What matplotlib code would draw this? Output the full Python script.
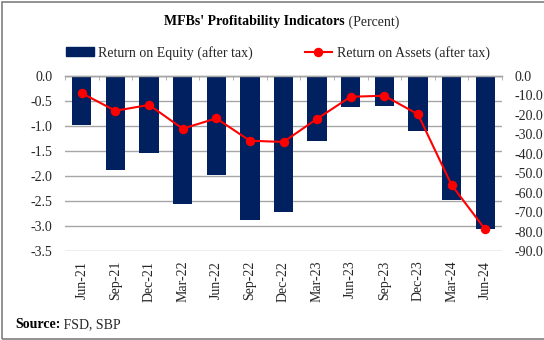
import matplotlib
matplotlib.use("Agg")
import matplotlib.pyplot as plt
from matplotlib.lines import Line2D
from matplotlib.patches import Patch, Rectangle

plt.rcParams['font.family'] = ['Liberation Serif', 'DejaVu Serif']
plt.rcParams['font.size'] = 10

quarters = ['Jun-21', 'Sep-21', 'Dec-21', 'Mar-22', 'Jun-22', 'Sep-22', 'Dec-22',
            'Mar-23', 'Jun-23', 'Sep-23', 'Dec-23', 'Mar-24', 'Jun-24']
# bars, left scale
roe = [-0.98, -1.88, -1.55, -2.57, -1.99, -2.88, -2.73,
       -1.30, -0.63, -0.60, -1.11, -2.48, -3.07]
# line, right scale
roa = [-9.0, -18.0, -15.0, -27.2, -21.9, -33.4, -34.0,
       -22.1, -10.8, -10.3, -19.8, -56.1, -78.9]

left_ticks = [0.0, -0.5, -1.0, -1.5, -2.0, -2.5, -3.0, -3.5]
right_ticks = [0, -10, -20, -30, -40, -50, -60, -70, -80, -90]

navy = '#002060'
red = '#FF0000'
grid_grey = '#A6A6A6'
text_col = '#262626'

fig = plt.figure(figsize=(5.44, 3.40), dpi=100)
ax = fig.add_axes([65 / 544, 89 / 340, 437 / 544, 175.3 / 340])
ax2 = ax.twinx()

x = list(range(len(quarters)))
ax.bar(x, roe, width=0.575, color=navy, zorder=3)
ax2.plot(x, roa, color=red, lw=1.5, marker='o', ms=5.8, zorder=4)

ax.set_xlim(-0.5, len(quarters) - 0.5)
ax.set_ylim(-3.5, 0)
ax2.set_ylim(-90, 0)
ax.set_yticks(left_ticks)
ax.set_yticklabels([f'{v:.1f}' for v in left_ticks])
ax2.set_yticks(right_ticks)
ax2.set_yticklabels([f'{v:.1f}' for v in right_ticks])

ax.grid(axis='y', color=grid_grey, lw=1.0, zorder=0)
ax.set_axisbelow(True)

for a in (ax, ax2):
    for side in ('left', 'right', 'bottom'):
        a.spines[side].set_visible(False)
    a.spines['top'].set_color(grid_grey)
    a.spines['top'].set_linewidth(1.0)

ax.set_xticks(x)
ax.set_xticklabels(quarters, rotation=90, color=text_col)
ax.tick_params(axis='x', which='major', length=0, pad=7)
ax.set_xticks([i - 0.5 for i in range(len(quarters) + 1)], minor=True)
ax.tick_params(axis='x', which='minor', top=True, bottom=False, direction='in',
               length=3, color=grid_grey)
ax.tick_params(axis='y', length=0, pad=9, labelcolor=text_col)
ax2.tick_params(axis='y', length=0, pad=9, labelcolor=text_col)

# title: bold part followed by a regular "(Percent)"
fig.canvas.draw()
renderer = fig.canvas.get_renderer()
t1 = fig.text(0, 1 - 22 / 340, "MFBs' Profitability Indicators", fontweight='bold',
              va='center', ha='left', color='black')
t2 = fig.text(0, 1 - 22 / 340, ' (Percent)', va='center', ha='left', color=text_col)
w1 = t1.get_window_extent(renderer).width
w2 = t2.get_window_extent(renderer).width
start = 281.5 - (w1 + w2) / 2
t1.set_x(start / 544)
t2.set_x((start + w1) / 544)

handles = [Patch(color=navy),
           Line2D([], [], color=red, lw=1.5, marker='o', ms=5.8)]
fig.legend(handles, ['Return on Equity (after tax)', 'Return on Assets (after tax)'],
           ncol=2, loc='center', bbox_to_anchor=(278 / 544, 1 - 53 / 340),
           frameon=False, handlelength=2.0, handleheight=0.6, handletextpad=0.3,
           columnspacing=3.7, borderpad=0, labelcolor=text_col)

# source line
s1 = fig.text(15 / 544, 1 - 325 / 340, 'Source:', fontweight='bold', va='center',
              ha='left', color='black')
w3 = s1.get_window_extent(renderer).width
fig.text((15 + w3) / 544, 1 - 325 / 340, ' FSD, SBP', va='center', ha='left',
         color=text_col)

fig.patches.append(Rectangle((1.5 / 544, 1.5 / 340), 560 / 544, 337 / 340,
                             transform=fig.transFigure, fill=False,
                             edgecolor='#7F7F7F', lw=1.2))

fig.savefig('out.png', dpi=100)
